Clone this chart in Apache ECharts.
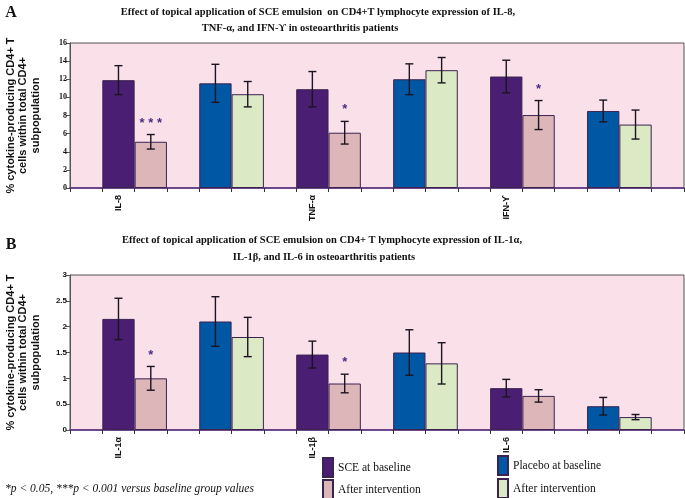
<!DOCTYPE html>
<html>
<head>
<meta charset="utf-8">
<script src="https://cdn.jsdelivr.net/npm/echarts@6/dist/echarts.min.js"></script>
<style>
html,body{margin:0;padding:0;background:#fff;}
#main{width:685px;height:498px;}
</style>
</head>
<body>
<div id="main"></div>
<script>
// ---------- DATA ----------
const cytokinesA = ['IL-8', 'TNF-\u03b1', 'IFN-\u03d2'];
const sceBaseA = [11.9, 10.9, 12.3];
const sceAfterA = [5.1, 6.1, 8.05];
const plcBaseA = [11.55, 12.0, 8.5];
const plcAfterA = [10.35, 13.0, 7.0];
const sceBaseErrA = [1.6, 1.95, 1.8];
const sceAfterErrA = [0.8, 1.25, 1.6];
const plcBaseErrA = [2.1, 1.7, 1.2];
const plcAfterErrA = [1.4, 1.4, 1.6];
const sigA = ['* * *', '*', '*'];

const cytokinesB = ['IL-1\u03b1', 'IL-1\u03b2', 'IL-6'];
const sceBaseB = [2.15, 1.46, 0.81];
const sceAfterB = [1.0, 0.9, 0.66];
const plcBaseB = [2.1, 1.5, 0.46];
const plcAfterB = [1.8, 1.29, 0.25];
const sceBaseErrB = [0.4, 0.26, 0.17];
const sceAfterErrB = [0.23, 0.18, 0.12];
const plcBaseErrB = [0.48, 0.44, 0.17];
const plcAfterErrB = [0.38, 0.4, 0.05];
const sigB = ['*', '*', ''];

const yTicksA = {min: 0, max: 16, interval: 2};
const yTicksB = {min: 0, max: 3, interval: 0.5};

const seriesNames = ['SCE at baseline', 'After intervention', 'Placebo at baseline', 'After intervention\u2009'];
const yTitle = '% cytokine-producing CD4+ T\ncells within total CD4+\nsubpopulation';

// ---------- LAYOUT HELPERS ----------
const NSLOT = 19;
function slotOf(groupIdx, kind) { // kind 0..3
  return 6 * groupIdx + [1, 2, 4, 5][kind];
}
function slotCats(cyt) {
  const a = [];
  for (let i = 0; i < NSLOT; i++) a.push('');
  cyt.forEach((c, i) => { a[slotOf(i, 0)] = c; });
  return a;
}
function slotData(vals, kind) {
  const a = [];
  for (let i = 0; i < NSLOT; i++) a.push('-');
  vals.forEach((v, i) => { a[slotOf(i, kind)] = v; });
  return a;
}
function errData(valsList, errList) {
  const out = [];
  valsList.forEach((vals, k) => {
    vals.forEach((v, i) => out.push([slotOf(i, k), v, errList[k][i]]));
  });
  return out;
}
function sigData(vals, errs, sig) {
  const out = [];
  vals.forEach((v, i) => { if (sig[i]) out.push({value: [slotOf(i, 1), v + errs[i]], sig: sig[i]}); });
  return out;
}

const colors = ['#4a1e72', '#dcb6b8', '#0057a3', '#dbe9c5'];
const barBorder = '#3b2350';

function errRender(params, api) {
  const x = api.value(0), v = api.value(1), e = api.value(2);
  const t = api.coord([x, v + e]);
  const b = api.coord([x, v - e]);
  const cw = 4;
  const st = {stroke: '#1c1420', lineWidth: 1.4};
  return {type: 'group', children: [
    {type: 'line', shape: {x1: t[0], y1: t[1], x2: b[0], y2: b[1]}, style: st},
    {type: 'line', shape: {x1: t[0] - cw, y1: t[1], x2: t[0] + cw, y2: t[1]}, style: st},
    {type: 'line', shape: {x1: b[0] - cw, y1: b[1], x2: b[0] + cw, y2: b[1]}, style: st}
  ]};
}
function makeSigRender(sigs) {
  return function (params, api) {
    const p = api.coord([api.value(0), api.value(1)]);
    return {type: 'text', x: p[0], y: p[1] - 5,
      style: {text: sigs[params.dataIndex], fill: '#4b2d86', font: 'bold 13px "Liberation Sans", Arial',
        align: 'center', verticalAlign: 'bottom'}};
  };
}

function panelSeries(gi, vals, errs, sig) {
  const s = [];
  vals.forEach((v, k) => {
    s.push({
      name: seriesNames[k], type: 'bar', stack: 'p' + gi, xAxisIndex: gi, yAxisIndex: gi,
      barWidth: '100%', data: slotData(v, k),
      itemStyle: {color: colors[k], borderColor: barBorder, borderWidth: 1},
      emphasis: {disabled: true}, animation: false
    });
  });
  s.push({type: 'custom', xAxisIndex: gi, yAxisIndex: gi, renderItem: errRender,
    encode: {x: 0, y: 1}, data: errData(vals, errs), z: 5, animation: false, silent: true});
  const sd = sigData(vals[1], errs[1], sig);
  s.push({type: 'custom', xAxisIndex: gi, yAxisIndex: gi, renderItem: makeSigRender(sd.map(d => d.sig)),
    encode: {x: 0, y: 1}, data: sd.map(d => d.value), z: 6, animation: false, silent: true});
  return s;
}

function xAxisCfg(gi, cyt) {
  return {
    type: 'category', gridIndex: gi, data: slotCats(cyt),
    axisLine: {lineStyle: {color: '#5a2a82', width: 1.5}},
    axisTick: {show: true, interval: 0, length: 4, lineStyle: {color: '#333'}},
    axisLabel: {interval: 0, rotate: 90, margin: 7, color: '#111', fontSize: 9, fontWeight: 'bold',
      fontFamily: '"Liberation Sans", Arial'},
    splitLine: {show: false}
  };
}
function yAxisCfg(gi, ticks, serif) {
  return {
    type: 'value', gridIndex: gi, min: ticks.min, max: ticks.max, interval: ticks.interval,
    axisLine: {show: true, lineStyle: {color: '#555', width: 1}},
    axisTick: {show: true, length: 4, lineStyle: {color: '#555'}},
    axisLabel: {margin: 3, color: '#111', fontSize: 8, fontWeight: 'bold',
      fontFamily: serif ? '"Liberation Serif", "Times New Roman"' : '"Liberation Sans", Arial'},
    splitLine: {show: false},
    name: yTitle, nameLocation: 'middle', nameRotate: 90, nameGap: 28,
    nameTextStyle: {fontSize: 11, fontWeight: 'bold', fontFamily: '"Liberation Sans", Arial',
      color: '#111', lineHeight: 12.5, align: 'center'}
  };
}

const titleFont = 'bold 10.5px "Liberation Serif", "Times New Roman"';
function txt(x, y, text, font, align) {
  return {type: 'text', x: x, y: y, style: {text: text, font: font, fill: '#111', align: align || 'center', verticalAlign: 'middle'}};
}
const legendText = {fontFamily: '"Liberation Serif", "Times New Roman"', fontSize: 11.5, color: '#111'};
function legendItem(name, left, top) {
  return {orient: 'horizontal', left: left, top: top, padding: 0, itemWidth: 10, itemHeight: 19, itemGap: 0,
    icon: 'rect', data: [name], selectedMode: false, textStyle: legendText};
}

const chart = echarts.init(document.getElementById('main'), null, {renderer: 'canvas'});
chart.setOption({
  animation: false,
  backgroundColor: '#ffffff',
  grid: [
    {left: 70, right: 1, top: 43, height: 145, show: true, backgroundColor: '#f9e0e9', borderColor: '#555', borderWidth: 1,
      outerBoundsMode: 'none', containLabel: false},
    {left: 70, right: 1, top: 275, height: 155, show: true, backgroundColor: '#f9e0e9', borderColor: '#555', borderWidth: 1,
      outerBoundsMode: 'none', containLabel: false}
  ],
  xAxis: [xAxisCfg(0, cytokinesA), xAxisCfg(1, cytokinesB)],
  yAxis: [yAxisCfg(0, yTicksA, true), yAxisCfg(1, yTicksB, false)],
  legend: [
    legendItem(seriesNames[0], 322, 457),
    legendItem(seriesNames[1], 322, 479),
    legendItem(seriesNames[2], 497, 455),
    legendItem(seriesNames[3], 497, 478)
  ],
  graphic: [
    txt(11, 13, 'A', 'bold 16px "Liberation Serif", "Times New Roman"'),
    txt(318, 12, 'Effect of topical application of SCE emulsion  on CD4+T lymphocyte expression of IL-8,', titleFont),
    txt(300, 28, 'TNF-\u03b1, and IFN-\u03d2 in osteoarthritis patients', titleFont),
    txt(11, 245, 'B', 'bold 16px "Liberation Serif", "Times New Roman"'),
    txt(322, 240, 'Effect of topical application of SCE emulsion on CD4+ T lymphocyte expression of IL-1\u03b1,', titleFont),
    txt(324, 257, 'IL-1\u03b2, and IL-6 in osteoarthritis patients', titleFont),
    txt(5, 489, '*p < 0.05, ***p < 0.001 versus baseline group values', 'italic 11.5px "Liberation Serif", "Times New Roman"', 'left')
  ],
  series: [].concat(
    panelSeries(0, [sceBaseA, sceAfterA, plcBaseA, plcAfterA], [sceBaseErrA, sceAfterErrA, plcBaseErrA, plcAfterErrA], sigA),
    panelSeries(1, [sceBaseB, sceAfterB, plcBaseB, plcAfterB], [sceBaseErrB, sceAfterErrB, plcBaseErrB, plcAfterErrB], sigB)
  )
});
</script>
</body>
</html>
